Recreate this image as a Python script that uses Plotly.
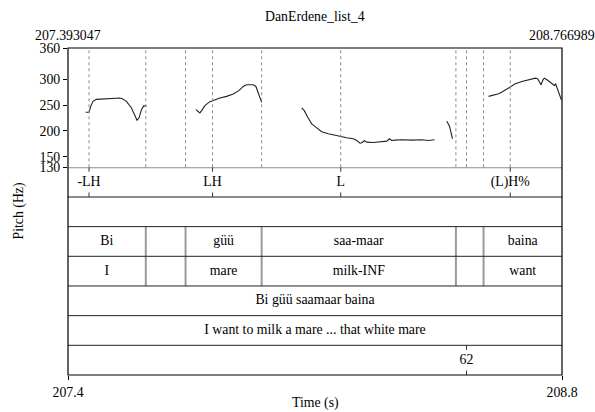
import plotly.graph_objects as go

# ---------------- data ----------------
T_START = 207.393047
T_END = 208.766989
chart_title = "DanErdene_list_4"
start_label = "207.393047"
end_label = "208.766989"
bottom_ticktext = ["207.4", "208.8"]

# pitch track (s, Hz); None separates voiced stretches
f0_time = [
    207.4423, 207.4515, 207.4562, 207.4626, 207.4721, 207.4999, 207.5183, 207.5370,
    207.5445, 207.5556, 207.5696, 207.5788, 207.5851, 207.5907, 207.5974, 207.6038, 207.6113,
    None,
    207.7486, 207.7550, 207.7598, 207.7653, 207.7737, 207.7876, 207.7968, 207.8155,
    207.8341, 207.8525, 207.8692, 207.8804, 207.8898, 207.9082, 207.9157, 207.9222,
    207.9288, 207.9316,
    None,
    208.0430, 208.0503, 208.0597, 208.0709, 208.0848, 208.0987, 208.1171, 208.1358,
    208.1516, 208.1683, 208.1867, 208.1962, 208.2054, 208.2101, 208.2174, 208.2240,
    208.2424, 208.2611, 208.2797, 208.2870, 208.2937, 208.3029, 208.3215, 208.3494,
    208.3772, 208.3956, 208.4123,
    None,
    208.4468, 208.4541, 208.4624,
    None,
    208.5627, 208.5722, 208.5766, 208.5906, 208.6000, 208.6139, 208.6231, 208.6371,
    208.6557, 208.6741, 208.6928, 208.6992, 208.7047, 208.7086, 208.7142, 208.7178,
    208.7253, 208.7345, 208.7401, 208.7457, 208.7493, 208.7549, 208.7604, 208.7652,
]
f0_hz = [
    236.0, 236.0, 247.5, 257.1, 260.9, 261.7, 262.2, 263.6,
    262.2, 257.1, 244.4, 228.3, 220.7, 225.3, 241.2, 248.8, 247.5,
    None,
    241.2, 236.8, 234.8, 239.8, 248.8, 256.5, 259.0, 263.6,
    266.7, 271.3, 278.2, 285.8, 289.1, 289.1, 285.8, 273.2,
    261.7, 255.2,
    None,
    244.4, 239.2, 226.4, 213.8, 206.1, 198.4, 194.6, 191.3,
    188.8, 186.9, 185.0, 181.7, 176.6, 177.3, 181.2, 178.5,
    177.9, 179.3, 180.4, 185.0, 181.7, 182.3, 183.1, 182.3,
    183.1, 181.7, 183.1,
    None,
    218.7, 209.2, 185.0,
    None,
    266.7, 268.0, 269.9, 271.8, 275.1, 281.4, 285.8, 291.0,
    295.4, 299.2, 301.9, 300.6, 294.3, 289.1, 298.7, 301.9,
    298.7, 294.3, 290.4, 287.7, 290.4, 279.5, 266.7, 260.3,
]

pitch_tickvals = [130, 150, 200, 250, 300, 360]
PITCH_MIN, PITCH_MAX = 130, 360

# tier 1: tones (point tier)
tone_times = [207.4515, 207.7951, 208.1516, 208.6231]
tone_labels = ["-LH", "LH", "L", "(L)H%"]

# tier 2: empty interval tier
# tiers 3 & 4: words and glosses (interval tiers, shared boundaries)
word_bounds = [207.6094, 207.7200, 207.9316, 208.4719, 208.5488]
words = ["Bi", "", "güü", "saa-maar", "", "baina"]
glosses = ["I", "", "mare", "milk-INF", "", "want"]

# tiers 5 & 6: sentence and translation
sentence = "Bi güü saamaar baina"
translation = "I want to milk a mare ... that white mare"

# tier 7: point tier
extra_times = [208.5014]
extra_labels = ["62"]

N_TIERS = 7

# ---------------- figure ----------------
FONT = "Liberation Serif"
FS = 13.8

fig = go.Figure()

fig.add_trace(go.Scatter(
    x=f0_time, y=f0_hz, mode="lines", connectgaps=False,
    line=dict(color="#222222", width=1.1), xaxis="x", yaxis="y",
    hoverinfo="skip", showlegend=False,
))


def tier_center(k):
    return N_TIERS - k - 0.5


txt_x, txt_y, txt_s = [], [], []
for t, s in zip(tone_times, tone_labels):
    txt_x.append(t); txt_y.append(tier_center(0)); txt_s.append(s)
edges = [T_START] + word_bounds + [T_END]
for k, labels in ((2, words), (3, glosses)):
    for i, s in enumerate(labels):
        if s:
            txt_x.append((edges[i] + edges[i + 1]) / 2)
            txt_y.append(tier_center(k)); txt_s.append(s)
for k, s in ((4, sentence), (5, translation)):
    txt_x.append((T_START + T_END) / 2); txt_y.append(tier_center(k)); txt_s.append(s)
for t, s in zip(extra_times, extra_labels):
    txt_x.append(t); txt_y.append(tier_center(6)); txt_s.append(s)

fig.add_trace(go.Scatter(
    x=txt_x, y=txt_y, text=txt_s, mode="text", xaxis="x", yaxis="y2",
    textfont=dict(family=FONT, size=FS, color="black"),
    hoverinfo="skip", showlegend=False,
))

shapes = []
# dotted lines through the pitch panel
for t in tone_times + word_bounds + extra_times:
    shapes.append(dict(type="line", xref="x", yref="y", x0=t, x1=t,
                       y0=PITCH_MIN, y1=PITCH_MAX,
                       line=dict(color="#8a8a8a", width=1, dash="dot")))
# interval boundaries in tiers 3-4
for t in word_bounds:
    shapes.append(dict(type="line", xref="x", yref="y2", x0=t, x1=t,
                       y0=N_TIERS - 4, y1=N_TIERS - 2,
                       line=dict(color="#9a9a9a", width=2)))
# tier separators
for b in range(1, N_TIERS + 1):
    grey = b >= N_TIERS - 1
    shapes.append(dict(type="line", xref="paper", yref="y2", x0=0, x1=1, y0=b, y1=b,
                       line=dict(color="#8c8c8c" if grey else "#222222",
                                 width=2 if grey else 1)))
# point marks in point tiers
for k, times in ((0, tone_times), (6, extra_times)):
    top = N_TIERS - k
    for t in times:
        for y0, y1 in ((top, top - 0.15), (top - 1, top - 0.85)):
            shapes.append(dict(type="line", xref="x", yref="y2", x0=t, x1=t,
                               y0=y0, y1=y1, line=dict(color="#333333", width=1)))
# outer frame
shapes.append(dict(type="rect", xref="paper", yref="paper", x0=0, x1=1, y0=0, y1=1,
                   line=dict(color="black", width=1.2)))

pitch_frac = 120 / 329
split = 1 - pitch_frac

txtfont = dict(family=FONT, size=FS, color="black")
annotations = [
    dict(text=chart_title, xref="paper", yref="paper", x=0.5, y=1, yanchor="middle",
         yshift=32, showarrow=False, font=txtfont),
    dict(text=start_label, xref="x", yref="paper", x=T_START, y=1, yanchor="middle",
         yshift=13, showarrow=False, font=txtfont),
    dict(text=end_label, xref="x", yref="paper", x=T_END, y=1, yanchor="middle",
         yshift=13, showarrow=False, font=txtfont),
    dict(text="Pitch (Hz)", xref="paper", yref="paper", x=0, y=0.5, xanchor="center",
         yanchor="middle", xshift=-50, textangle=-90, showarrow=False, font=txtfont),
    dict(text="Time (s)", xref="paper", yref="paper", x=0.5, y=0, yanchor="middle",
         yshift=-28, showarrow=False, font=txtfont),
]

fig.update_layout(
    width=595, height=412,
    margin=dict(l=68, r=33, t=48, b=35),
    paper_bgcolor="white", plot_bgcolor="white",
    font=txtfont,
    showlegend=False,
    xaxis=dict(range=[T_START, T_END], anchor="y2", showgrid=False, zeroline=False,
               showline=False, tickvals=[T_START, T_END], ticktext=bottom_ticktext,
               ticks="outside", ticklen=4, tickcolor="black", tickfont=txtfont),
    yaxis=dict(domain=[split, 1], range=[PITCH_MIN, PITCH_MAX], anchor="x",
               showgrid=False, zeroline=False, showline=False,
               tickvals=pitch_tickvals, ticks="outside", ticklen=4, tickcolor="black",
               tickfont=txtfont),
    yaxis2=dict(domain=[0, split], range=[0, N_TIERS], visible=False, anchor="x"),
    shapes=shapes,
    annotations=annotations,
)

fig.write_html("out.html", config={"displayModeBar": False},
               post_script="document.body.style.margin='0';document.body.style.padding='0';")
